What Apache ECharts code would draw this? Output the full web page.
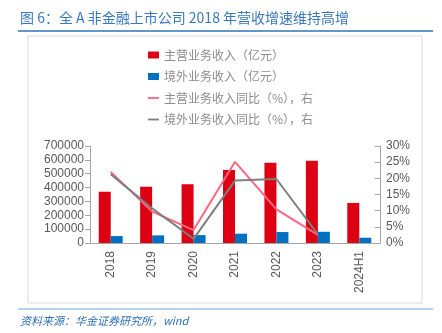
<!DOCTYPE html>
<html><head><meta charset="utf-8">
<script src="https://cdn.jsdelivr.net/npm/echarts@6/dist/echarts.min.js"></script>
<style>html,body{margin:0;padding:0;background:#fff}#c{width:442px;height:333px}</style>
</head><body><div id="c"></div>
<script>
const categories = ['2018','2019','2020','2021','2022','2023','2024H1'];
const mainRevenue = [370000, 406000, 424000, 527000, 580000, 594000, 289000];
const overseasRevenue = [50000, 55000, 57000, 67000, 79000, 81000, 38000];
const mainYoY = [22.0, 9.7, 4.0, 25.1, 10.4, 2.5, null];
const overseasYoY = [21.3, 10.7, 1.3, 19.3, 19.8, 2.7, null];
const seriesNames = ['主营业务收入（亿元）','境外业务收入（亿元）','主营业务收入同比（%），右','境外业务收入同比（%），右'];

const chart = echarts.init(document.getElementById('c'));
const numFont = 'Liberation Sans, Arial, sans-serif';
const cjk = 'Noto Sans CJK SC, sans-serif';
const lineIcon = 'path://M0,0 L12,0 L12,2 L0,2 Z';
chart.setOption({
  animation: false,
  graphic: [
    {type:'text', left:20, top:11, style:{text:'图 6：全 A 非金融上市公司 2018 年营收增速维持高增', fill:'#3a78bd', font:'14px "Noto Sans CJK SC", sans-serif'}},
    {type:'line', shape:{x1:18,y1:31,x2:433,y2:31}, style:{stroke:'#2e75b6', lineWidth:1.5}},
    {type:'rect', shape:{x:28,y:36,width:394,height:267}, style:{fill:'none', stroke:'#d9d9d9', lineWidth:1}},
    {type:'line', shape:{x1:18,y1:309,x2:433,y2:309}, style:{stroke:'#9dc3e6', lineWidth:1.5}},
    {type:'text', left:20, top:315, style:{text:'资料来源：华金证券研究所，wind', fill:'#2e6fb4', font:'italic 11px "Noto Sans CJK SC", sans-serif'}}
  ],
  legend: {
    orient:'vertical', left:143, top:44, itemWidth:11, itemHeight:7, itemGap:9.5,
    textStyle:{color:'#8c8c8c', fontSize:12, fontFamily:cjk},
    data: [
      {name:seriesNames[0], icon:'rect'},
      {name:seriesNames[1], icon:'rect'},
      {name:seriesNames[2], icon:lineIcon, itemStyle:{color:'#ff6680'}},
      {name:seriesNames[3], icon:lineIcon, itemStyle:{color:'#7f7f7f'}}
    ]
  },
  grid: {left:90, right:62, top:146, bottom:90},
  xAxis: {
    type:'category', data:categories,
    axisLine:{lineStyle:{color:'#a6a6a6'}},
    axisTick:{lineStyle:{color:'#a6a6a6'}},
    axisLabel:{rotate:90, color:'#595959', fontSize:12, fontFamily:numFont, margin:8}
  },
  yAxis: [
    {type:'value', min:0, max:700000, interval:100000,
     axisLine:{show:true, lineStyle:{color:'#a6a6a6'}},
     axisTick:{show:true, lineStyle:{color:'#a6a6a6'}},
     splitLine:{show:false},
     axisLabel:{color:'#595959', fontSize:12, fontFamily:numFont, margin:6, formatter: v => String(v)}},
    {type:'value', min:0, max:30, interval:5, position:'right',
     axisLine:{show:true, lineStyle:{color:'#a6a6a6'}},
     axisTick:{show:true, inside:true, lineStyle:{color:'#a6a6a6'}},
     splitLine:{show:false},
     axisLabel:{color:'#595959', fontSize:12, fontFamily:numFont, margin:6, formatter:'{value}%'}}
  ],
  series: [
    {name:seriesNames[0], type:'bar', data:mainRevenue, barWidth:12, barGap:'0%', itemStyle:{color:'#dc0012'}},
    {name:seriesNames[1], type:'bar', data:overseasRevenue, barWidth:12, barGap:'0%', itemStyle:{color:'#0070c0'}},
    {name:seriesNames[2], type:'line', yAxisIndex:1, data:mainYoY, symbol:'none', lineStyle:{color:'#ff6680', width:2}, itemStyle:{color:'#ff6680'}},
    {name:seriesNames[3], type:'line', yAxisIndex:1, data:overseasYoY, symbol:'none', lineStyle:{color:'#7f7f7f', width:2}, itemStyle:{color:'#7f7f7f'}}
  ]
});
</script></body></html>
